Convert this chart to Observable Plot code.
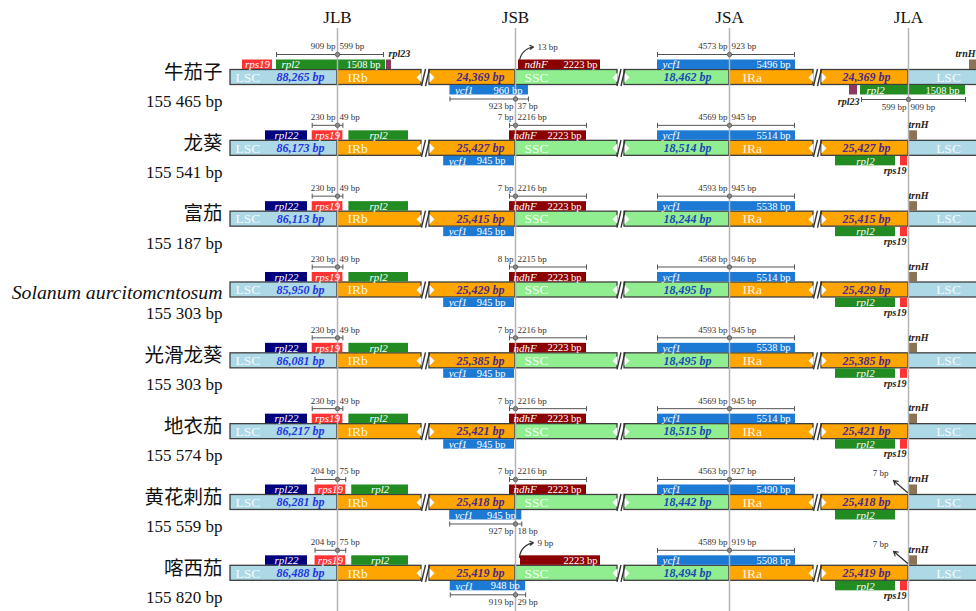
<!DOCTYPE html>
<html><head><meta charset="utf-8">
<script src="https://cdn.jsdelivr.net/npm/d3@7"></script>
<script src="https://cdn.jsdelivr.net/npm/@observablehq/plot@0.6"></script>
<style>html,body{margin:0;padding:0;background:#fff;overflow:hidden}svg{display:block}</style>
</head><body><div id="chart"></div>
<script>
// ---------------- data ----------------
const junctionNames = ["JLB", "JSB", "JSA", "JLA"];
const species = ["牛茄子", "龙葵", "富茄", "Solanum aurcitomcntosum", "光滑龙葵", "地衣茄", "黄花刺茄", "喀西茄"];
const latinName = [false, false, false, true, false, false, false, false];
const genomeSize = ["155 465 bp", "155 541 bp", "155 187 bp", "155 303 bp", "155 303 bp", "155 574 bp", "155 559 bp", "155 820 bp"];
const lscLength = ["88,265", "86,173", "86,113", "85,950", "86,081", "86,217", "86,281", "86,488"];
const irLength = ["24,369", "25,427", "25,415", "25,429", "25,385", "25,421", "25,418", "25,419"];
const sscLength = ["18,462", "18,514", "18,244", "18,495", "18,495", "18,515", "18,442", "18,494"];
// JLB
const jlbGene = ["rpl2", "rps19", "rps19", "rps19", "rps19", "rps19", "rps19", "rps19"];
const jlbLeft = [909, 230, 230, 230, 230, 230, 204, 204];
const jlbRight = [599, 49, 49, 49, 49, 49, 75, 75];
const rpl2Length = 1508;
// JSB
const ndhFLength = [2223, 2223, 2223, 2223, 2223, 2223, 2223, 2223];
const ndhFLabel = [true, true, true, true, true, true, true, false];
const jsbLeft = [13, 7, 7, 8, 7, 7, 7, 9];
const jsbRight = [null, 2216, 2216, 2215, 2216, 2216, 2216, null];
const ycf1sLength = [960, 945, 945, 945, 945, 945, 945, 948];
const ycf1sLeft = [923, null, null, null, null, null, 927, 919];
const ycf1sRight = [37, null, null, null, null, null, 18, 29];
// JSA
const ycf1Length = [5496, 5514, 5538, 5514, 5538, 5514, 5490, 5508];
const jsaLeft = [4573, 4569, 4593, 4568, 4593, 4569, 4563, 4589];
const jsaRight = [923, 945, 945, 946, 945, 945, 927, 919];
// JLA
const jlaRps19 = [false, true, true, true, true, true, false, true];
const trnHGap = [null, null, null, null, null, null, 7, 7];

// ---------------- layout (schematic) ----------------
const J = {JLB: 337, JSB: 515, JSA: 729, JLA: 908};
const R = 70.83, Y0 = 77, H = 611;
const yy = (r, px) => r + px / R;
const A1 = -17.5, A2 = -8, B1 = 8, B2 = 17.5;
const C = {LSC: "#add8e6", IR: "#ffa500", SSC: "#90ee90", red: "#ff3333", green: "#228b22",
  navy: "#00007f", dred: "#8b0000", blue: "#1c7ad4", brown: "#8b7355", maroon: "#8b3a5e"};

const segs = [], rects = [], texts = [], links = [], dots = [], breaks = [], polys = [], curved = [], straight = [];
const T = (style, anchor, x, r, px, text) => texts.push({style, anchor, x, y: yy(r, px), text});
const box = (r, x1, x2, t, b, fill) => rects.push({x1, x2, y1: yy(r, t), y2: yy(r, b), fill});
function dim(r, x1, x2, xm, px, lt, rt, lp) {
  links.push({x1, x2, y1: yy(r, px), y2: yy(r, px)});
  links.push({x1: x1, x2: x1, y1: yy(r, px - 2.5), y2: yy(r, px + 2.5)});
  links.push({x1: x2, x2: x2, y1: yy(r, px - 2.5), y2: yy(r, px + 2.5)});
  dots.push({x: xm, y: yy(r, px)});
  T("dim", "end", xm - 2, r, lp, lt + " bp");
  T("dim", "start", xm + 2, r, lp, rt + " bp");
}
let pid = 0;
function brk(r, e, s) {
  polys.push({id: pid, x: e, y: yy(r, -5)}, {id: pid, x: e, y: yy(r, 5)}, {id: pid, x: e - 5, y: yy(r, 0)}); pid++;
  polys.push({id: pid, x: s, y: yy(r, -5)}, {id: pid, x: s, y: yy(r, 5)}, {id: pid, x: s + 5, y: yy(r, 0)}); pid++;
  const c = (e + s) / 2;
  breaks.push({x1: c - 4, y1: yy(r, 8.5), x2: c, y2: yy(r, -8.5)});
  breaks.push({x1: c, y1: yy(r, 8.5), x2: c + 4, y2: yy(r, -8.5)});
}

species.forEach((name, r) => {
  if (latinName[r]) T("latin", "end", 222, r, 3, name); else T("name", "end", 222, r, -5, name);
  T("size", "end", 222, r, 24, genomeSize[r]);
  [[230, J.JLB, C.LSC], [J.JLB, 421, C.IR], [429, J.JSB, C.IR], [J.JSB, 617, C.SSC],
   [624, J.JSA, C.SSC], [J.JSA, 813, C.IR], [821, J.JLA, C.IR], [J.JLA, 990, C.LSC]]
    .forEach(([a, b, f]) => segs.push({x1: a, x2: b, y1: yy(r, -7.5), y2: yy(r, 7.5), fill: f}));
  brk(r, 421, 429); brk(r, 617, 624); brk(r, 813, 821);
  T("region", "start", 235, r, 0, "LSC");
  T("lscNum", "middle", 300, r, 0, lscLength[r] + " bp");
  T("region", "start", 347, r, 0, "IRb");
  T("irNum", "middle", 480, r, 0, irLength[r] + " bp");
  T("region", "start", 524, r, 0, "SSC");
  T("sscNum", "middle", 687, r, 0, sscLength[r] + " bp");
  T("region", "start", 742, r, 0, "IRa");
  T("irNum", "middle", 866, r, 0, irLength[r] + " bp");
  T("region", "middle", 948, r, 0, "LSC");

  // ---- JLB ----
  if (jlbGene[r] === "rpl2") {
    box(r, 242, 272, A1, A2, C.red); T("gene", "middle", 257, r, (A1 + A2) / 2, "rps19");
    box(r, 276, 385, A1, A2, C.green); T("gene", "start", 281, r, (A1 + A2) / 2, "rpl2");
    T("geneBp", "end", 380, r, (A1 + A2) / 2, rpl2Length + " bp");
    box(r, 386, 391, A1, A2, C.maroon); T("out", "start", 388, r, -23.5, "rpl23");
    dim(r, 276, 383, J.JLB, -23, jlbLeft[r], jlbRight[r], -31);
  } else {
    const L = J.JLB - jlbLeft[r] * 0.11, Rr = J.JLB + jlbRight[r] * 0.11;
    box(r, 265, 307, A1, A2, C.navy); T("gene", "middle", 286, r, (A1 + A2) / 2, "rpl22");
    box(r, L, Rr, A1, A2, C.red); T("gene", "middle", (L + Rr) / 2, r, (A1 + A2) / 2, "rps19");
    box(r, Rr + 6, 408, A1, A2, C.green); T("gene", "middle", (Rr + 414) / 2, r, (A1 + A2) / 2, "rpl2");
    dim(r, L, Rr, J.JLB, -23, jlbLeft[r], jlbRight[r], -31);
  }
  // ---- JSB ----
  if (jsbRight[r] != null) {
    const L = J.JSB - 6, Rr = 586;
    box(r, L, Rr, A1, A2, C.dred);
    T("gene", "start", L + 4, r, (A1 + A2) / 2, "ndhF");
    T("geneBp", "end", Rr - 5, r, (A1 + A2) / 2, ndhFLength[r] + " bp");
    dim(r, L, Rr, J.JSB, -23, jsbLeft[r], jsbRight[r], -31);
  } else {
    const L = J.JSB + (jsbLeft[r] > 10 ? 3 : 5), Rr = 600;
    box(r, L, Rr, A1, A2, C.dred);
    if (ndhFLabel[r]) T("gene", "start", L + 6, r, (A1 + A2) / 2, "ndhF");
    T("geneBp", "end", Rr - 3, r, (A1 + A2) / 2, ndhFLength[r] + " bp");
    curved.push({x1: J.JSB + 4, y1: yy(r, -16), x2: J.JSB + 18, y2: yy(r, -30.5)});
    T("dim", "start", J.JSB + 22, r, -30.5, jsbLeft[r] + " bp");
  }
  if (ycf1sLeft[r] != null) {
    const L = J.JSB - ycf1sLeft[r] * 0.071, Rr = J.JSB + ycf1sRight[r] * 0.35;
    box(r, L, Rr, B1, B2, C.blue);
    T("gene", "start", L + 5, r, (B1 + B2) / 2, "ycf1");
    T("geneBp", "end", Rr - 6, r, (B1 + B2) / 2, ycf1sLength[r] + " bp");
    dim(r, L, Rr, J.JSB, 21.5, ycf1sLeft[r], ycf1sRight[r], 29);
  } else {
    const L = J.JSB - ycf1sLength[r] * 0.076, Rr = J.JSB - 1;
    box(r, L, Rr, B1, B2, C.blue);
    T("gene", "start", L + 5, r, (B1 + B2) / 2, "ycf1");
    T("geneBp", "end", Rr - 9, r, (B1 + B2) / 2, ycf1sLength[r] + " bp");
  }
  // ---- JSA ----
  {
    const L = J.JSA - 72, Rr = J.JSA + 66;
    box(r, L, Rr, A1, A2, C.blue);
    T("gene", "start", L + 5, r, (A1 + A2) / 2, "ycf1");
    T("geneBp", "end", Rr - 5, r, (A1 + A2) / 2, ycf1Length[r] + " bp");
    dim(r, L, Rr - 1, J.JSA, -23, jsaLeft[r], jsaRight[r], -31);
  }
  // ---- JLA ----
  if (jlbGene[r] === "rpl2") {
    box(r, 849, 857, B1, B2, C.maroon); T("out", "end", 859, r, 24, "rpl23");
    box(r, 860, 965, B1, B2, C.green);
    T("gene", "start", 866, r, (B1 + B2) / 2, "rpl2");
    T("geneBp", "end", 959, r, (B1 + B2) / 2, rpl2Length + " bp");
    dim(r, 861, 965, J.JLA, 22, jlbRight[r], jlbLeft[r], 29.5);
    box(r, 969, 980, A1, A2, C.brown); T("out", "end", 975, r, -23.5, "trnH");
  } else {
    box(r, 835, 895, B1, B2, C.green); T("gene", "middle", 865, r, (B1 + B2) / 2, "rpl2");
    if (jlaRps19[r]) { box(r, 900, 907, B1, B2, C.red); T("out", "end", 906, r, 22.5, "rps19"); }
    box(r, 909, 917, A1, A2, C.brown); T("out", "start", 908, r, -23.5, "trnH");
    if (trnHGap[r] != null) {
      straight.push({x1: 907, y1: yy(r, -10), x2: 893, y2: yy(r, -22)});
      T("dim", "middle", 880, r, -29, trnHGap[r] + " bp");
    }
  }
});
junctionNames.forEach(j => texts.push({style: "header", anchor: "middle", x: J[j], y: (17 - Y0) / R, text: j}));

const serif = "'Liberation Serif','Noto Sans CJK SC',serif";
const styles = {
  header: {fontSize: 17, fill: "#111"},
  name: {fontSize: 19.5, fill: "#111"},
  latin: {fontSize: 19.8, fill: "#111", fontStyle: "italic"},
  size: {fontSize: 17, fill: "#111"},
  region: {fontSize: 13.5, fill: "#ffffff", fillOpacity: 0.9},
  lscNum: {fontSize: 12, fontStyle: "italic", fontWeight: "bold", fill: "#2236e0"},
  irNum: {fontSize: 12, fontStyle: "italic", fontWeight: "bold", fill: "#4a2a8a"},
  sscNum: {fontSize: 12, fontStyle: "italic", fontWeight: "bold", fill: "#1a48b8"},
  gene: {fontSize: 11, fontStyle: "italic", fill: "#ffffff"},
  geneBp: {fontSize: 10.5, fill: "#ffffff"},
  out: {fontSize: 10, fontStyle: "italic", fontWeight: "bold", fill: "#222"},
  dim: {fontSize: 9, fill: "#333"}
};
const groups = d3.groups(texts, d => d.style + "|" + d.anchor);
const textMarks = groups.map(([key, items]) => {
  const [style, anchor] = key.split("|");
  return Plot.text(items, {x: "x", y: "y", text: "text", textAnchor: anchor, fontFamily: serif, ...styles[style]});
});

const plot = Plot.plot({
  width: 976, height: H, margin: 0,
  style: {fontFamily: serif, background: "#fff"},
  x: {domain: [0, 976], range: [0, 976], axis: null},
  y: {domain: [-Y0 / R, (H - Y0) / R], range: [0, H], axis: null},
  marks: [
    Plot.rect(segs, {x1: "x1", x2: "x2", y1: "y1", y2: "y2", fill: "fill", stroke: "#3f3f3f", strokeWidth: 1.3, clip: true}),
    Plot.line(polys, {x: "x", y: "y", z: "id", fill: "#ffffff", stroke: "none", curve: "linear-closed"}),
    Plot.link(breaks, {x1: "x1", y1: "y1", x2: "x2", y2: "y2", stroke: "#333", strokeWidth: 1.4}),
    Plot.rect(rects, {x1: "x1", x2: "x2", y1: "y1", y2: "y2", fill: "fill", clip: true}),
    Plot.ruleX(junctionNames, {x: d => J[d], y1: (28 - Y0) / R, y2: (H - Y0) / R, stroke: "#b5b5b5", strokeWidth: 1.5}),
    Plot.link(links, {x1: "x1", y1: "y1", x2: "x2", y2: "y2", stroke: "#555", strokeWidth: 1}),
    Plot.dot(dots, {x: "x", y: "y", r: 2.2, fill: "#8c8c8c", stroke: "#555", strokeWidth: 0.8}),
    Plot.arrow(curved, {x1: "x1", y1: "y1", x2: "x2", y2: "y2", bend: 40, headLength: 5, stroke: "#333", strokeWidth: 1.2}),
    Plot.arrow(straight, {x1: "x1", y1: "y1", x2: "x2", y2: "y2", headLength: 6, stroke: "#333", strokeWidth: 1.2}),
    ...textMarks
  ]
});
document.getElementById("chart").appendChild(plot);
</script>
</body></html>
